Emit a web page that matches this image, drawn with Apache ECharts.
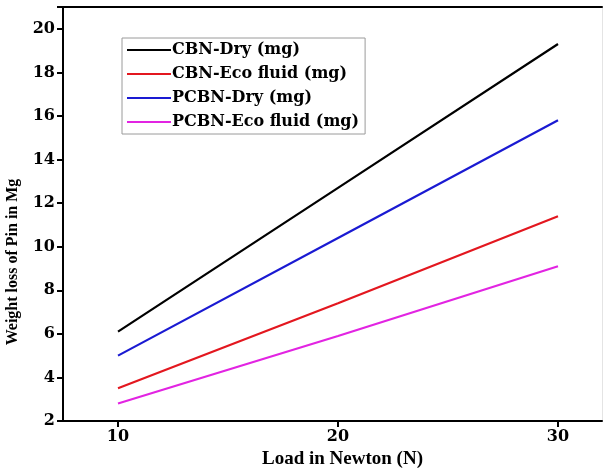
<!DOCTYPE html>
<html>
<head>
<meta charset="utf-8">
<script src="https://cdn.jsdelivr.net/npm/echarts@6/dist/echarts.min.js"></script>
<style>
  html, body { margin: 0; padding: 0; background: #fff; }
  #chart { width: 606px; height: 468px; }
</style>
</head>
<body>
<div id="chart"></div>
<script>
// Load applied to the pin (N)
const loads = [10, 20, 30];
const xTicks = [10, 20, 30];

// Weight loss of the pin (mg) per tool / lubrication condition
const cbnDry = [6.1, 12.7, 19.3];
const cbnEco = [3.5, 7.4, 11.4];
const pcbnDry = [5.0, 10.4, 15.8];
const pcbnEco = [2.8, 5.9, 9.1];

const seriesNames = ['CBN-Dry (mg)', 'CBN-Eco fluid (mg)', 'PCBN-Dry (mg)', 'PCBN-Eco fluid (mg)'];
const seriesColors = ['#000000', '#e3171f', '#1a1ad2', '#e224e2'];
const seriesValues = [cbnDry, cbnEco, pcbnDry, pcbnEco];

const wideFont = '"DejaVu Serif", serif';
const serifFont = '"Liberation Serif", "Times New Roman", serif';

const chart = echarts.init(document.getElementById('chart'), null, { renderer: 'canvas' });

const series = seriesNames.map((name, i) => ({
  name,
  type: 'line',
  data: loads.map((x, j) => [x, seriesValues[i][j]]),
  symbol: 'none',
  showSymbol: false,
  lineStyle: { color: seriesColors[i], width: 2.2 },
  itemStyle: { color: seriesColors[i] },
  xAxisIndex: 0,
  yAxisIndex: 0
}));

chart.setOption({
  animation: false,
  backgroundColor: '#fff',
  grid: { left: 63, right: 4, top: 7, bottom: 47, containLabel: false, outerBoundsMode: 'none' },
  legend: {
    orient: 'vertical',
    left: 122,
    top: 38,
    padding: [3, 6, 3, 5],
    itemGap: 6,
    itemWidth: 44,
    itemHeight: 2,
    icon: 'rect',
    borderColor: '#9a9a9a',
    borderWidth: 1,
    textStyle: {
      fontFamily: wideFont, fontWeight: 'bold', fontSize: 16, lineHeight: 18,
      color: '#000', padding: [0, 0, 0, -4]
    },
    data: seriesNames
  },
  xAxis: [
    {
      type: 'value',
      min: 7.5,
      max: 32,
      name: 'Load in Newton (N)',
      nameLocation: 'middle',
      nameGap: 21,
      nameTextStyle: { fontFamily: serifFont, fontWeight: 'bold', fontSize: 19, color: '#000', padding: [0, 0, 0, 20] },
      axisLine: { show: true, onZero: false, lineStyle: { color: '#000', width: 2 } },
      axisTick: { show: true, inside: false, length: 6, lineStyle: { color: '#000', width: 2 }, customValues: xTicks },
      axisLabel: { fontFamily: wideFont, fontWeight: 'bold', fontSize: 16, color: '#000', margin: 8, customValues: xTicks },
      splitLine: { show: false }
    },
    {
      type: 'value',
      position: 'top',
      min: 7.5,
      max: 32,
      axisLine: { show: true, lineStyle: { color: '#000', width: 2 } },
      axisTick: { show: false },
      axisLabel: { show: false },
      splitLine: { show: false }
    }
  ],
  yAxis: [
    {
      type: 'value',
      min: 2,
      max: 21,
      interval: 2,
      name: 'Weight loss of Pin in Mg',
      nameLocation: 'middle',
      nameGap: 42,
      nameRotate: 90,
      nameTextStyle: { fontFamily: serifFont, fontWeight: 'bold', fontSize: 16, color: '#000', padding: [0, 96, 0, 0] },
      axisLine: { show: true, onZero: false, lineStyle: { color: '#000', width: 2 } },
      axisTick: { show: true, inside: false, length: 6, lineStyle: { color: '#000', width: 2 } },
      axisLabel: {
        fontFamily: wideFont, fontWeight: 'bold', fontSize: 16, color: '#000', margin: 8,
        formatter: v => (v > 20 ? '' : String(v))
      },
      splitLine: { show: false }
    },
    {
      type: 'value',
      position: 'right',
      min: 2,
      max: 21,
      axisLine: { show: true, lineStyle: { color: '#e4e4e4', width: 1 } },
      axisTick: { show: false },
      axisLabel: { show: false },
      splitLine: { show: false }
    }
  ],
  series
});
</script>
</body>
</html>
